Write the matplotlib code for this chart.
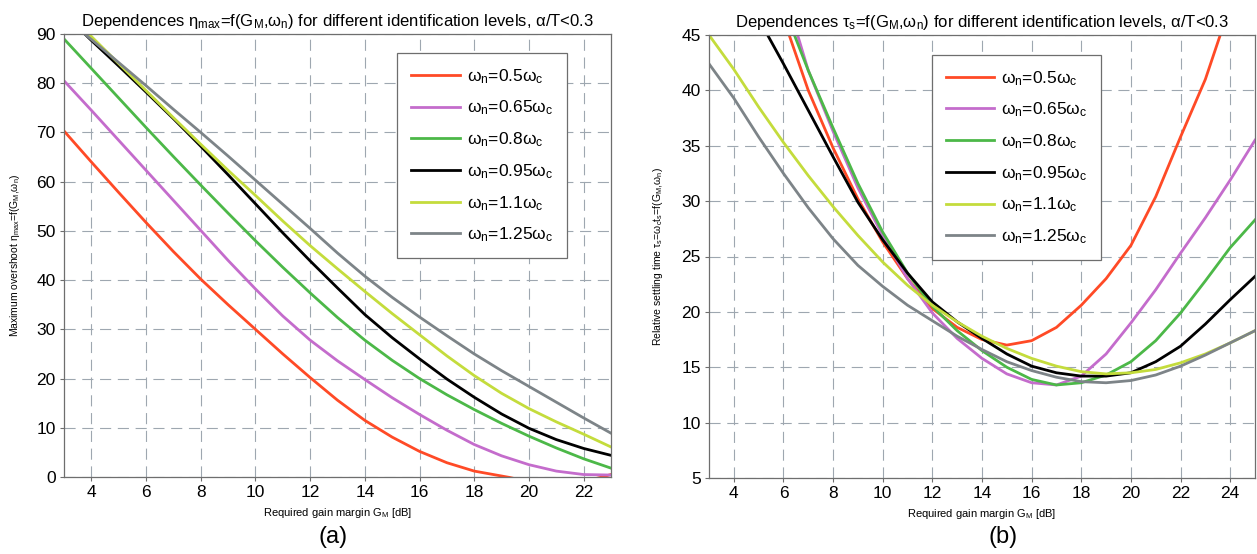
import matplotlib
matplotlib.use("Agg")
import matplotlib.pyplot as plt

plt.rcParams["font.family"] = ["Liberation Sans", "DejaVu Sans"]
plt.rcParams["mathtext.fontset"] = "custom"
plt.rcParams["mathtext.rm"] = "Liberation Sans"
plt.rcParams["mathtext.it"] = "Liberation Sans"
plt.rcParams["mathtext.default"] = "regular"

# legend labels / colours
labels = [r"$\omega_n$=0.5$\omega_c$", r"$\omega_n$=0.65$\omega_c$", r"$\omega_n$=0.8$\omega_c$",
          r"$\omega_n$=0.95$\omega_c$", r"$\omega_n$=1.1$\omega_c$", r"$\omega_n$=1.25$\omega_c$"]
colors = ["#ff4a26", "#c46ccc", "#4cb848", "#000000", "#c4dc3c", "#7d8488"]

# (a) maximum overshoot vs gain margin
a_red_x = [3, 4, 5, 6, 7, 8, 9, 10, 11, 12, 13, 14, 15, 16, 17, 18, 19, 19.3, 20, 21, 22, 22.6, 23]
a_red_y = [70.3, 64.0, 57.8, 51.7, 45.8, 40.2, 35.0, 30.0, 25.0, 20.2, 15.6, 11.5, 8.1, 5.2, 2.9, 1.2, 0.2, -0.1, -1.0, -1.4, -0.9, -0.1, 0.5]
a_purple_x = [3, 4, 5, 6, 7, 8, 9, 10, 11, 12, 13, 14, 15, 16, 17, 18, 19, 20, 21, 22, 23]
a_purple_y = [80.5, 74.5, 68.4, 62.3, 56.2, 50.1, 44.0, 38.2, 32.7, 27.8, 23.6, 19.8, 16.1, 12.7, 9.5, 6.6, 4.3, 2.5, 1.2, 0.5, 0.4]
a_green_x = [3, 4, 5, 6, 7, 8, 9, 10, 11, 12, 13, 14, 15, 16, 17, 18, 19, 20, 21, 22, 23]
a_green_y = [89.0, 83.0, 77.0, 71.0, 65.1, 59.3, 53.6, 48.0, 42.6, 37.4, 32.4, 27.8, 23.7, 20.0, 16.7, 13.7, 10.9, 8.3, 5.9, 3.7, 1.8]
a_black_x = [3.76, 4, 5, 6, 7, 8, 9, 10, 11, 12, 13, 14, 15, 16, 17, 18, 19, 20, 21, 22, 23]
a_black_y = [90.0, 88.7, 83.5, 78.2, 72.8, 67.2, 61.4, 55.5, 49.6, 43.9, 38.4, 33.0, 28.3, 24.0, 19.9, 16.2, 12.8, 9.9, 7.6, 5.8, 4.4]
a_yellow_x = [3.9, 4, 5, 6, 7, 8, 9, 10, 11, 12, 13, 14, 15, 16, 17, 18, 19, 20, 21, 22, 23]
a_yellow_y = [90.0, 89.5, 84.0, 78.5, 73.0, 67.6, 62.3, 57.2, 52.0, 47.0, 42.3, 37.7, 33.2, 28.9, 24.6, 20.6, 17.0, 13.9, 11.2, 8.7, 6.1]
a_grey_x = [3.76, 4, 5, 6, 7, 8, 9, 10, 11, 12, 13, 14, 15, 16, 17, 18, 19, 20, 21, 22, 23]
a_grey_y = [90.0, 88.9, 84.2, 79.5, 74.7, 70.0, 65.2, 60.3, 55.4, 50.5, 45.5, 40.8, 36.5, 32.5, 28.7, 25.0, 21.6, 18.4, 15.2, 12.0, 8.9]

# (b) relative settling time vs gain margin
b_red_x = [6.23, 7, 8, 9, 10, 11, 12, 13, 14, 15, 16, 17, 18, 19, 20, 21, 22, 23, 23.6]
b_red_y = [45.0, 40.0, 34.8, 30.2, 26.3, 23.0, 20.3, 18.6, 17.5, 17.0, 17.4, 18.6, 20.6, 23.0, 26.0, 30.4, 35.8, 41.0, 45.0]
b_purple_x = [6.57, 7, 8, 9, 10, 11, 12, 13, 14, 15, 16, 17, 18, 19, 20, 21, 22, 23, 24, 25]
b_purple_y = [45.0, 41.8, 36.3, 31.2, 26.9, 23.0, 19.9, 17.6, 15.8, 14.4, 13.6, 13.4, 14.2, 16.2, 19.0, 22.0, 25.3, 28.5, 31.9, 35.5]
b_green_x = [6.44, 7, 8, 9, 10, 11, 12, 13, 14, 15, 16, 17, 18, 19, 20, 21, 22, 23, 24, 25]
b_green_y = [45.0, 41.8, 36.6, 31.6, 27.2, 23.5, 20.5, 18.3, 16.5, 15.0, 13.9, 13.4, 13.6, 14.3, 15.5, 17.4, 19.9, 22.8, 25.8, 28.3]
b_black_x = [5.36, 6, 7, 8, 9, 10, 11, 12, 13, 14, 15, 16, 17, 18, 19, 20, 21, 22, 23, 24, 25]
b_black_y = [45.0, 42.4, 38.2, 34.0, 29.9, 26.5, 23.5, 20.9, 19.1, 17.6, 16.2, 15.1, 14.5, 14.2, 14.2, 14.5, 15.5, 16.9, 18.9, 21.1, 23.2]
b_yellow_x = [3, 4, 5, 6, 7, 8, 9, 10, 11, 12, 13, 14, 15, 16, 17, 18, 19, 20, 21, 22, 23, 24, 25]
b_yellow_y = [45.0, 41.9, 38.5, 35.3, 32.3, 29.5, 26.9, 24.5, 22.4, 20.6, 19.1, 17.8, 16.7, 15.8, 15.1, 14.6, 14.4, 14.5, 14.8, 15.4, 16.2, 17.2, 18.3]
b_grey_x = [3, 4, 5, 6, 7, 8, 9, 10, 11, 12, 13, 14, 15, 16, 17, 18, 19, 20, 21, 22, 23, 24, 25]
b_grey_y = [42.4, 39.3, 35.8, 32.5, 29.4, 26.6, 24.2, 22.3, 20.6, 19.2, 17.8, 16.6, 15.5, 14.7, 14.1, 13.7, 13.6, 13.8, 14.3, 15.1, 16.1, 17.2, 18.3]

a_series = [(a_red_x, a_red_y), (a_purple_x, a_purple_y), (a_green_x, a_green_y),
            (a_black_x, a_black_y), (a_yellow_x, a_yellow_y), (a_grey_x, a_grey_y)]
b_series = [(b_red_x, b_red_y), (b_purple_x, b_purple_y), (b_green_x, b_green_y),
            (b_black_x, b_black_y), (b_yellow_x, b_yellow_y), (b_grey_x, b_grey_y)]

a_xticks = list(range(4, 23, 2))
a_yticks = list(range(0, 91, 10))
b_xticks = list(range(4, 25, 2))
b_yticks = list(range(5, 46, 5))

fig = plt.figure(figsize=(12.57, 5.54), dpi=100)
ax1 = fig.add_axes([64 / 1257, 1 - 477 / 554, 547 / 1257, 443 / 554])
ax2 = fig.add_axes([709 / 1257, 1 - 478 / 554, 546 / 1257, 443 / 554])


def style_axes(ax, xlim, ylim, xticks, yticks):
    ax.set_xlim(*xlim)
    ax.set_ylim(*ylim)
    ax.set_xticks(xticks)
    ax.set_yticks(yticks)
    ax.grid(True, color="#9ea7b0", linestyle=(0, (10, 6)), linewidth=0.8)
    ax.set_axisbelow(True)
    for sp in ax.spines.values():
        sp.set_color("#6e6e6e")
        sp.set_linewidth(0.9)
    ax.tick_params(direction="out", length=3, width=0.8, color="#6e6e6e",
                   labelsize=12.5, pad=3)


for (xs, ys), c, lab in zip(a_series, colors, labels):
    ax1.plot(xs, ys, color=c, lw=2.0, label=lab)
style_axes(ax1, (3, 23), (0, 90), a_xticks, a_yticks)
ax1.set_title(r"Dependences $\eta_{max}$=f(G$_M$,$\omega_n$) for different identification levels, $\alpha$/T<0.3",
              fontsize=12, pad=6)
ax1.set_xlabel(r"Required gain margin G$_M$ [dB]", fontsize=8, labelpad=4)
ax1.set_ylabel(r"Maximum overshoot $\eta_{max}$=f(G$_M$,$\omega_n$)", fontsize=7.5, labelpad=10)

for (xs, ys), c, lab in zip(b_series, colors, labels):
    ax2.plot(xs, ys, color=c, lw=2.0, label=lab)
style_axes(ax2, (3, 25), (5, 45), b_xticks, b_yticks)
ax2.set_title(r"Dependences $\tau_s$=f(G$_M$,$\omega_n$) for different identification levels, $\alpha$/T<0.3",
              fontsize=12, pad=6)
ax2.set_xlabel(r"Required gain margin G$_M$ [dB]", fontsize=8, labelpad=4)
ax2.set_ylabel(r"Relative settling time $\tau_s$=$\omega_c$t$_s$=f(G$_M$,$\omega_n$)", fontsize=7.5, labelpad=12)

for ax, anchor in ((ax1, (0.609, 0.957)), (ax2, (0.408, 0.955))):
    leg = ax.legend(loc="upper left", bbox_to_anchor=anchor, borderaxespad=0,
                    fontsize=12.5, handlelength=2.8, labelspacing=0.75,
                    fancybox=False, framealpha=1, borderpad=0.8, handletextpad=0.4)
    leg.get_frame().set_edgecolor("#6e6e6e")
    leg.get_frame().set_linewidth(0.9)

fig.text(333 / 1257, 1 - 537 / 554, "(a)", fontsize=17, ha="center", va="center")
fig.text(1003 / 1257, 1 - 537 / 554, "(b)", fontsize=17, ha="center", va="center")

fig.savefig("out.png", dpi=100)
